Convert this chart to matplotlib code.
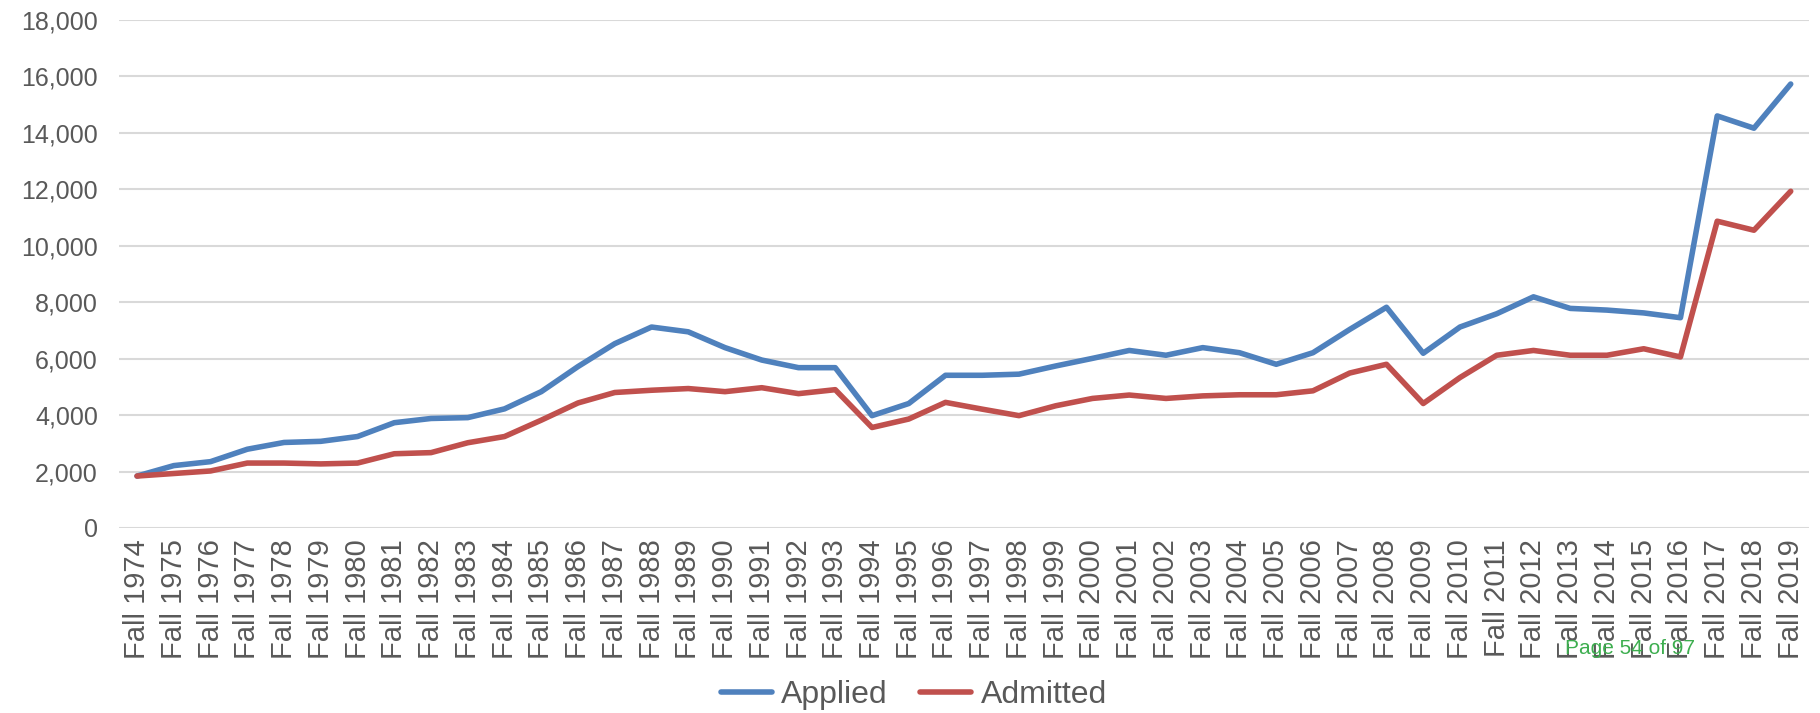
import matplotlib
matplotlib.use('Agg')
import matplotlib.pyplot as plt
from matplotlib import font_manager
from matplotlib.ticker import FuncFormatter
import numpy as np

years = list(range(1974, 2020))
labels = ['Fall ' + str(y) for y in years]

applied = [1840, 2210, 2350, 2790, 3030, 3070, 3240, 3730, 3880, 3910,
           4220, 4830, 5720, 6530, 7120, 6950, 6390, 5950, 5680, 5680,
           3980, 4410, 5410, 5410, 5450, 5740, 6010, 6290, 6120, 6390,
           6210, 5800, 6210, 7035, 7820, 6190, 7120, 7590, 8190, 7780,
           7720, 7620, 7450, 14600, 14165, 15730]
admitted = [1840, 1930, 2020, 2300, 2300, 2270, 2300, 2630, 2670, 3020,
            3240, 3820, 4430, 4800, 4880, 4940, 4830, 4970, 4760, 4900,
            3560, 3860, 4450, 4210, 3980, 4330, 4590, 4710, 4590, 4680,
            4720, 4720, 4860, 5490, 5800, 4410, 5330, 6120, 6290, 6120,
            6120, 6350, 6060, 10870, 10550, 11930]

# pick a narrow font if there is one
names = set(f.name for f in font_manager.fontManager.ttflist)
if 'Liberation Sans Narrow' in names:
    fam = 'Liberation Sans Narrow'
else:
    fam = 'Liberation Sans'
grey = '#595959'

fig = plt.figure(figsize=(18.2, 7.13), dpi=100)
ax = fig.add_axes([0.0652, 0.2595, 0.9288, 0.7125])

x = np.arange(len(years))
ax.plot(x, applied, color='#4F81BD', lw=4, solid_capstyle='round', label='Applied')
ax.plot(x, admitted, color='#C0504D', lw=4, solid_capstyle='round', label='Admitted')

ax.set_xlim(-0.5, len(years) - 0.5)
ax.set_ylim(0, 18000)
ax.set_yticks(np.arange(0, 18001, 2000))
ax.yaxis.set_major_formatter(FuncFormatter(lambda v, p: '{:,.0f}'.format(v)))
ax.set_xticks(x)
ax.set_xticklabels(labels, rotation=90, fontfamily=fam, fontsize=21, color=grey)
for t in ax.get_yticklabels():
    t.set_fontfamily(fam)
    t.set_fontsize(18)
    t.set_color(grey)
ax.tick_params(axis='x', length=0, pad=8)
ax.tick_params(axis='y', length=0, pad=15)
ax.grid(axis='y', color='#D9D9D9', lw=1.5)
ax.set_axisbelow(True)
for s in ax.spines.values():
    s.set_visible(False)

leg = fig.legend(loc='center', bbox_to_anchor=(0.502, 0.025), ncol=2, frameon=False,
                 prop={'family': fam, 'size': 23}, handlelength=1.6,
                 columnspacing=1.0, handletextpad=0.3)
for t in leg.get_texts():
    t.set_color(grey)

fig.text(0.860, 0.083, 'Page 54 of 97', color='#3DAE4F', fontsize=15,
         fontfamily='Liberation Sans')

fig.savefig('out.png', dpi=100)
